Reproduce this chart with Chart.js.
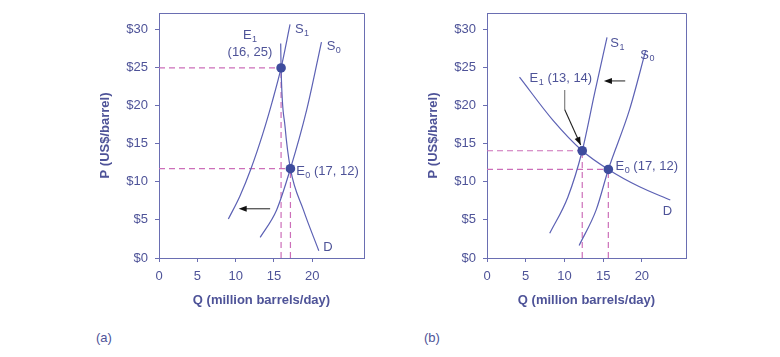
<!DOCTYPE html>
<html><head><meta charset="utf-8">
<script src="https://cdn.jsdelivr.net/npm/chart.js@4.4.1/dist/chart.umd.min.js"></script>
<style>
html,body{margin:0;padding:0;background:#fff;width:780px;height:357px;overflow:hidden;font-family:"Liberation Sans",Arial,sans-serif}
.panel{position:absolute;top:0;width:300px;height:316px}
.cap{position:absolute;font-size:13px;color:#4e5398;line-height:15px}
</style></head><body>
<div class="panel" style="left:80px"><canvas id="ca"></canvas></div>
<div class="panel" style="left:408px"><canvas id="cb"></canvas></div>
<div class="cap" style="left:96px;top:330px">(a)</div>
<div class="cap" style="left:424px;top:330px">(b)</div>
<script>
// ---- tick labels ----
const xTicks = [0, 5, 10, 15, 20];
const yTicks = [0, 5, 10, 15, 20, 25, 30];

// ---- panel (a) ----
const aS1Q = [9.05, 10.55, 12.0, 13.55, 14.75, 15.93, 17.1];
const aS1P = [5.1, 8.1, 11.7, 16.3, 20.4, 24.9, 30.6];
const aS0Q = [13.2, 15.35, 17.15, 19.27, 21.2];
const aS0P = [2.7, 6.3, 11.7, 19.4, 28.3];
const aDQ  = [15.88, 15.93, 16.45, 17.15, 18.84, 20.85];
const aDP  = [28.1, 24.9, 17.2, 11.7, 6.3, 0.96];
const aEqQ = [15.93, 17.15];
const aEqP = [24.9, 11.7];

// ---- panel (b) ----
const bDQ  = [4.2, 8.5, 12.3, 15.67, 19.7, 23.67];
const bDP  = [23.7, 18.07, 14.05, 11.6, 9.33, 7.6];
const bS1Q = [8.1, 10.45, 12.3, 13.9, 15.5];
const bS1P = [3.23, 8.0, 14.05, 21.6, 28.9];
const bS0Q = [11.9, 14.1, 15.67, 18.4, 20.5];
const bS0P = [1.65, 6.3, 11.6, 19.4, 27.2];
const bEqQ = [12.3, 15.67];
const bEqP = [14.05, 11.6];

const FAMILY = '"Liberation Sans", Arial, sans-serif';
const TEXT = '#4e5398', AXIS = '#6a6eb2', CURVE = '#5c61b4', MARK = '#3e4c9d', DASH = '#cc6fb9';
Chart.defaults.font.family = FAMILY;

// annotations (anchor in data units)
const aLabels = [
  {t:'E', s:'1', r:'', q:11.87, p:29.2, align:'center'},
  {t:'(16, 25)', s:'', r:'', q:11.87, p:27.0, align:'center'},
  {t:'S', s:'1', r:'', q:17.74, p:30.0, align:'left'},
  {t:'S', s:'0', r:'', q:21.88, p:27.7, align:'left'},
  {t:'E', s:'0', r:' (17, 12)', q:17.9, p:11.33, align:'left'},
  {t:'D', s:'', r:'', q:21.44, p:1.44, align:'left'}
];
const bLabels = [
  {t:'E', s:'1', r:' (13, 14)', q:5.5, p:23.54, align:'left'},
  {t:'S', s:'1', r:'', q:15.92, p:28.1, align:'left'},
  {t:'S', s:'0', r:'', q:19.8, p:26.6, align:'left'},
  {t:'E', s:'0', r:' (17, 12)', q:16.6, p:11.96, align:'left'},
  {t:'D', s:'', r:'', q:22.7, p:6.07, align:'left'}
];
const aArrows = [{from:[14.5, 6.45], to:[10.4, 6.45]}];
const bArrows = [{from:[17.85, 23.2], to:[15.1, 23.2]}];
const bLeader = {top:[10.03, 22.0], bend:[10.03, 19.46], tip:[12.1, 14.8]};

function pts(qs, ps){ return qs.map((q, i) => ({x:q, y:ps[i]})); }

function drawArrowHead(ctx, x1, y1, x2, y2){
  const ang = Math.atan2(y2 - y1, x2 - x1), L = 8, W = 3;
  ctx.beginPath();
  ctx.moveTo(x2, y2);
  ctx.lineTo(x2 - L*Math.cos(ang) + W*Math.sin(ang), y2 - L*Math.sin(ang) - W*Math.cos(ang));
  ctx.lineTo(x2 - L*Math.cos(ang) - W*Math.sin(ang), y2 - L*Math.sin(ang) + W*Math.cos(ang));
  ctx.closePath();
  ctx.fill();
}

const econPlugin = {
  id: 'econ',
  beforeDatasetsDraw(chart){
    const {ctx, chartArea:{left, right, top, bottom}} = chart;
    ctx.save();
    ctx.strokeStyle = AXIS; ctx.lineWidth = 1;
    ctx.beginPath();
    ctx.moveTo(Math.round(left) + 0.5, Math.round(top) + 0.5);
    ctx.lineTo(Math.round(right) + 0.5, Math.round(top) + 0.5);
    ctx.lineTo(Math.round(right) + 0.5, Math.round(bottom) + 0.5);
    ctx.stroke();
    ctx.restore();
  },
  afterDatasetsDraw(chart, args, opts){
    const {ctx, scales:{x, y}} = chart;
    const X = v => x.getPixelForValue(v), Y = v => y.getPixelForValue(v);
    ctx.save();
    (opts.arrows || []).forEach(a => {
      const x1 = X(a.from[0]), y1 = Y(a.from[1]), x2 = X(a.to[0]), y2 = Y(a.to[1]);
      ctx.strokeStyle = '#333'; ctx.fillStyle = '#111'; ctx.lineWidth = 1.1;
      ctx.beginPath(); ctx.moveTo(x1, y1); ctx.lineTo(x2 + 5*Math.sign(x1 - x2), y2); ctx.stroke();
      drawArrowHead(ctx, x1, y1, x2, y2);
    });
    if (opts.leader){
      const l = opts.leader;
      ctx.strokeStyle = '#8a8a8a'; ctx.lineWidth = 1.3;
      ctx.beginPath(); ctx.moveTo(X(l.top[0]), Y(l.top[1])); ctx.lineTo(X(l.bend[0]), Y(l.bend[1])); ctx.stroke();
      ctx.strokeStyle = '#222'; ctx.fillStyle = '#111'; ctx.lineWidth = 1.1;
      const bx = X(l.bend[0]), by = Y(l.bend[1]), tx = X(l.tip[0]), ty = Y(l.tip[1]);
      ctx.beginPath(); ctx.moveTo(bx, by); ctx.lineTo(tx, ty); ctx.stroke();
      drawArrowHead(ctx, bx, by, tx, ty);
    }
    const main = '13px ' + FAMILY, sub = '9px ' + FAMILY;
    ctx.fillStyle = TEXT; ctx.textBaseline = 'middle'; ctx.textAlign = 'left';
    (opts.labels || []).forEach(lb => {
      ctx.font = main; const w1 = ctx.measureText(lb.t).width, w3 = ctx.measureText(lb.r).width;
      ctx.font = sub; const w2 = lb.s ? ctx.measureText(lb.s).width + 0.5 : 0;
      const total = w1 + w2 + w3;
      let px = X(lb.q); const py = Y(lb.p);
      if (lb.align === 'center') px -= total / 2;
      ctx.font = main; ctx.fillText(lb.t, px, py);
      if (lb.s){ ctx.font = sub; ctx.fillText(lb.s, px + w1 + 0.5, py + 4); }
      ctx.font = main; ctx.fillText(lb.r, px + w1 + w2, py);
    });
    ctx.restore();
  }
};

function build(id, xMax, padRight, curves, eqQ, eqP, ann){
  const datasets = [];
  datasets.push({data: pts(eqQ, eqP), showLine:false, pointRadius:4.8, pointHoverRadius:4.8,
    pointBackgroundColor:MARK, pointBorderWidth:0, order:0});
  curves.forEach(c => datasets.push({data: pts(c[0], c[1]), showLine:true, borderColor:CURVE,
    borderWidth:1.2, pointRadius:0, cubicInterpolationMode:'monotone', fill:false, order:1}));
  eqQ.forEach((q, i) => {
    datasets.push({data:[{x:0, y:eqP[i]}, {x:q, y:eqP[i]}], showLine:true, borderColor:DASH,
      borderDash:[6, 4], borderWidth:1.2, pointRadius:0, tension:0, order:2});
    datasets.push({data:[{x:q, y:0}, {x:q, y:eqP[i]}], showLine:true, borderColor:DASH,
      borderDash:[6, 4], borderWidth:1.2, pointRadius:0, tension:0, order:2});
  });
  return new Chart(document.getElementById(id), {
    type:'scatter',
    data:{datasets},
    plugins:[econPlugin],
    options:{
      responsive:true, maintainAspectRatio:false, animation:false,
      layout:{padding:{top:13, right:padRight, bottom:0, left:0}},
      plugins:{legend:{display:false}, tooltip:{enabled:false}, econ:ann},
      scales:{
        x:{type:'linear', min:0, max:xMax,
          afterBuildTicks: s => { s.ticks = xTicks.map(v => ({value:v})); },
          afterFit: s => { s.height = 58; s.paddingLeft = 0; s.paddingRight = 0; },
          grid:{display:true, drawOnChartArea:false, drawTicks:true, tickLength:4, color:AXIS, tickColor:AXIS},
          border:{display:true, color:AXIS, width:1},
          ticks:{color:TEXT, font:{size:13}, padding:7, maxRotation:0, autoSkip:false},
          title:{display:true, text:'Q (million barrels/day)', color:TEXT, font:{size:13, weight:'bold'}, padding:{top:0, bottom:8}}
        },
        y:{type:'linear', min:0, max:32.1,
          afterBuildTicks: s => { s.ticks = yTicks.map(v => ({value:v})); },
          afterFit: s => { s.width = 79; s.paddingTop = 0; s.paddingBottom = 0; },
          grid:{display:true, drawOnChartArea:false, drawTicks:true, tickLength:4, color:AXIS, tickColor:AXIS},
          border:{display:true, color:AXIS, width:1},
          ticks:{color:TEXT, font:{size:13}, padding:7, callback: v => '$' + v},
          title:{display:true, text:'P (US$/barrel)', color:TEXT, font:{size:13, weight:'bold'}, padding:{top:18, bottom:0}}
        }
      }
    }
  });
}

build('ca', 26.75, 16, [[aS1Q, aS1P], [aS0Q, aS0P], [aDQ, aDP]], aEqQ, aEqP,
  {labels:aLabels, arrows:aArrows});
build('cb', 25.7, 22, [[bDQ, bDP], [bS1Q, bS1P], [bS0Q, bS0P]], bEqQ, bEqP,
  {labels:bLabels, arrows:bArrows, leader:bLeader});
</script>
</body></html>
